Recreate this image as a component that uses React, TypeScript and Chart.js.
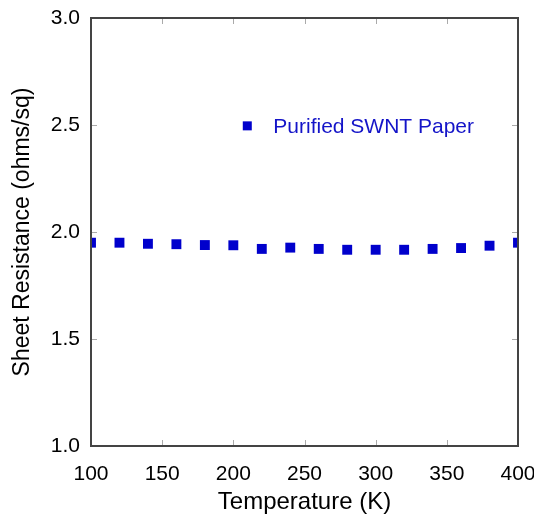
import React, { useEffect, useRef } from "react";
import { Chart, registerables } from "chart.js";

Chart.register(...registerables);

const temperatures = [100, 120, 140, 160, 180, 200, 220, 240, 260, 280, 300, 320, 340, 360, 380, 400];
const sheetResistance = [1.95, 1.95, 1.945, 1.943, 1.939, 1.938, 1.921, 1.927, 1.921, 1.917, 1.917, 1.917, 1.921, 1.925, 1.936, 1.95];
const seriesLabel = "Purified SWNT Paper";
const xTitle = "Temperature (K)";
const yTitle = "Sheet Resistance (ohms/sq)";
const xTicks = [100, 150, 200, 250, 300, 350, 400];
const yTicks = [1.0, 1.5, 2.0, 2.5, 3.0];

const FONT = "'Liberation Sans', Arial, sans-serif";
const BLUE = "#0000cc";

const framePlugin = {
  id: "frameTicks",
  afterDraw(chart: any) {
    const { ctx, chartArea } = chart;
    const { left, right, top, bottom } = chartArea;
    const xs = chart.scales.x;
    const ys = chart.scales.y;
    const len = 6;
    ctx.save();
    ctx.strokeStyle = "#aaa";
    ctx.lineWidth = 1;
    ctx.beginPath();
    xTicks.forEach((v) => {
      const px = Math.round(xs.getPixelForValue(v)) + 0.5;
      ctx.moveTo(px, bottom);
      ctx.lineTo(px, bottom - len);
      ctx.moveTo(px, top);
      ctx.lineTo(px, top + len);
    });
    yTicks.forEach((v) => {
      const py = Math.round(ys.getPixelForValue(v)) + 0.5;
      ctx.moveTo(left, py);
      ctx.lineTo(left + len, py);
      ctx.moveTo(right, py);
      ctx.lineTo(right - len, py);
    });
    ctx.stroke();
    ctx.strokeStyle = "#444";
    ctx.lineWidth = 2;
    ctx.strokeRect(left, top, right - left, bottom - top);

    // legend
    const lx = left + (right - left) * 0.366;
    const ly = top + (bottom - top) * 0.252;
    ctx.fillStyle = BLUE;
    ctx.fillRect(lx - 4.5, ly - 4.5, 9, 9);
    ctx.fillStyle = "#1414c8";
    ctx.font = `21px ${FONT}`;
    ctx.textBaseline = "middle";
    ctx.textAlign = "left";
    ctx.fillText(seriesLabel, lx + 26, ly + 1);
    ctx.restore();
  },
};

export default function App() {
  const ref = useRef<HTMLCanvasElement>(null);
  useEffect(() => {
    if (!ref.current) return;
    const chart = new Chart(ref.current, {
      type: "scatter",
      data: {
        datasets: [
          {
            label: seriesLabel,
            data: temperatures.map((t, i) => ({ x: t, y: sheetResistance[i] })),
            backgroundColor: BLUE,
            borderColor: BLUE,
            borderWidth: 0,
            pointStyle: "rect",
            pointRadius: 7,
          },
        ],
      },
      options: {
        animation: false,
        responsive: false,
        events: [],
        layout: { padding: { top: 18, right: 16, left: 0, bottom: 0 } },
        plugins: { legend: { display: false }, tooltip: { enabled: false } },
        scales: {
          x: {
            type: "linear",
            min: 100,
            max: 400,
            afterFit: (s: any) => {
              s.height = 69;
              s.paddingLeft = 0;
              s.paddingRight = 0;
            },
            afterBuildTicks: (s: any) => {
              s.ticks = xTicks.map((v) => ({ value: v }));
            },
            grid: { display: false, drawTicks: false },
            border: { display: false },
            ticks: {
              color: "#000",
              font: { family: FONT, size: 21 },
              padding: 16,
              maxRotation: 0,
              callback: (v: any) => String(v),
            },
            title: {
              display: true,
              text: xTitle,
              color: "#000",
              font: { family: FONT, size: 24 },
              padding: { top: 0, bottom: -2 },
            },
          },
          y: {
            type: "linear",
            min: 1,
            max: 3,
            afterFit: (s: any) => {
              s.width = 91;
              s.paddingTop = 0;
              s.paddingBottom = 0;
            },
            afterBuildTicks: (s: any) => {
              s.ticks = yTicks.map((v) => ({ value: v }));
            },
            grid: { display: false, drawTicks: false },
            border: { display: false },
            ticks: {
              color: "#000",
              font: { family: FONT, size: 21 },
              padding: 11,
              callback: (v: any) => Number(v).toFixed(1),
            },
            title: {
              display: true,
              text: yTitle,
              color: "#000",
              font: { family: FONT, size: 23 },
              padding: { top: 9, bottom: 0 },
            },
          },
        },
      },
      plugins: [framePlugin],
    });
    return () => chart.destroy();
  }, []);
  return (
    <div style={{ position: "absolute", left: 0, top: 0, width: 534, height: 515, background: "#fff" }}>
      <canvas ref={ref} width={534} height={515} />
    </div>
  );
}
